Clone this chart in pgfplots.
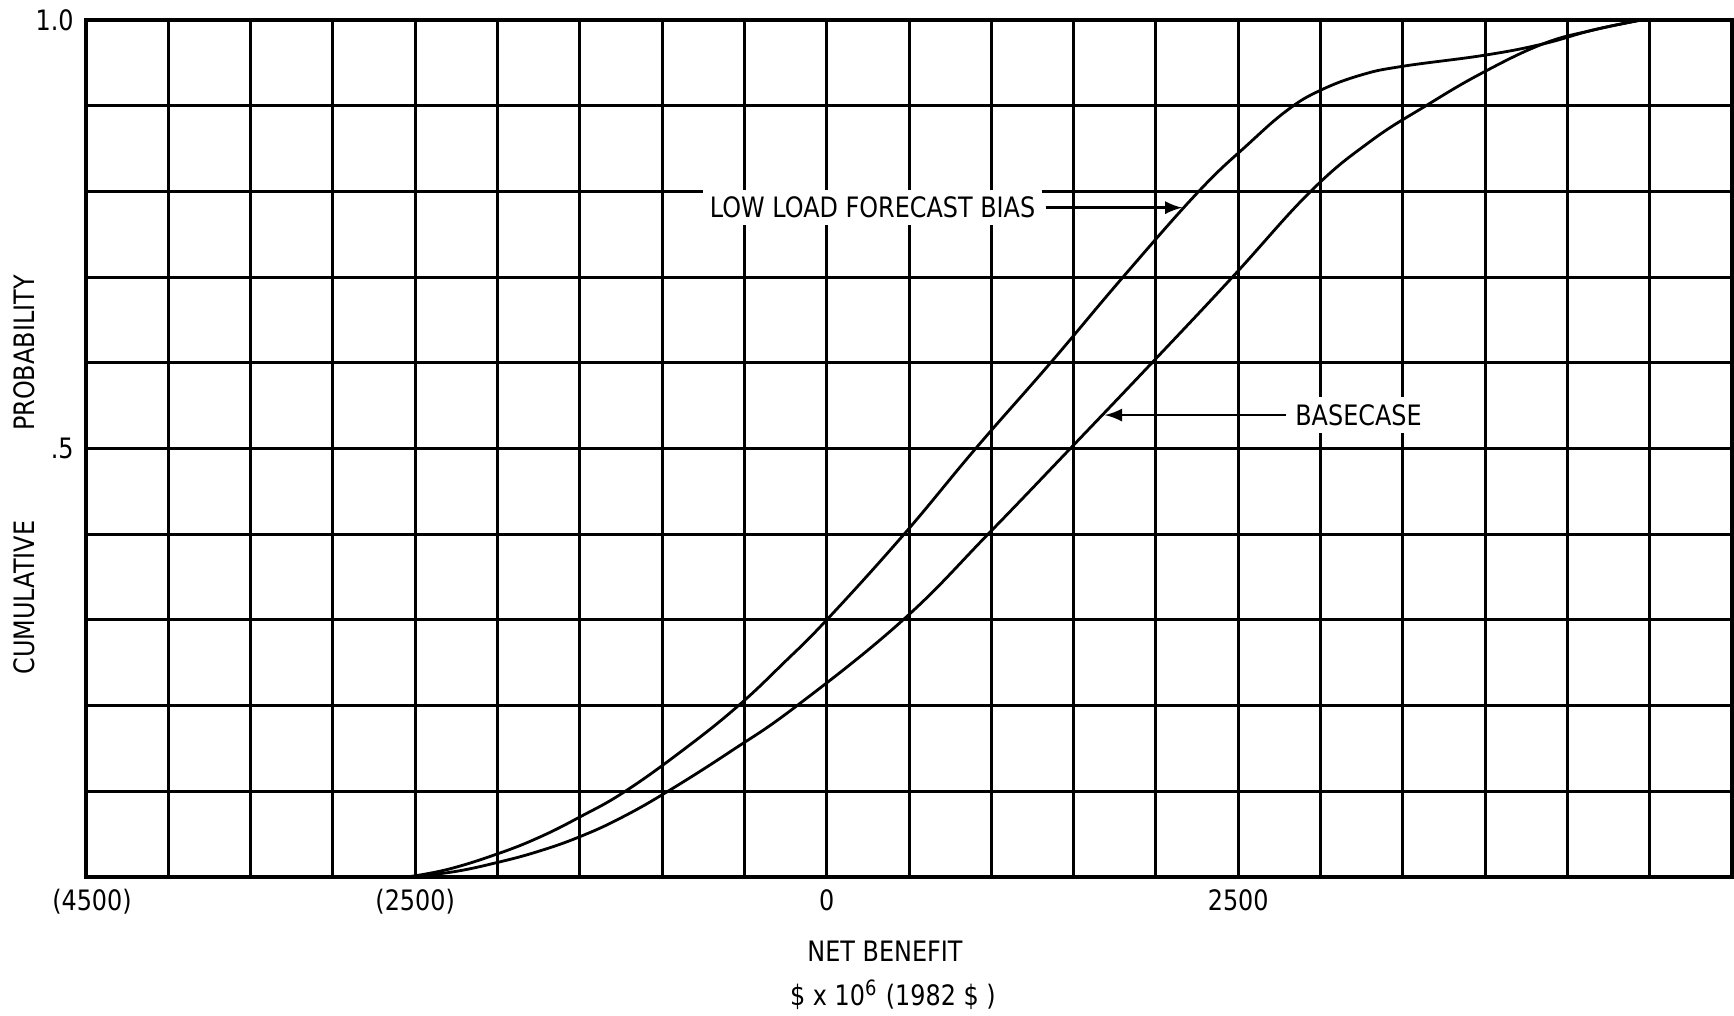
\documentclass[border=0pt]{standalone}
\usepackage{pgfplots}
\usepackage{pgfplotstable}
\pgfplotsset{compat=1.18}
\usepackage{fontspec}
\setmainfont{DejaVu Sans}[FakeStretch=0.85]
\begin{document}
\pgfplotstableread{
x y
-2550 0
-2300 0.009
-2000 0.027
-1750 0.046
-1500 0.070
-1224 0.100
-860 0.150
-536 0.200
-260 0.250
0 0.300
470 0.400
905 0.500
1360 0.600
1800 0.700
2260 0.800
2560 0.855
2800 0.895
3000 0.918
3250 0.936
3500 0.946
4000 0.959
4350 0.972
4650 0.988
4950 1.000
}\lowload
\pgfplotstableread{
x y
-2550 0
-2270 0.006
-2000 0.017
-1750 0.030
-1500 0.047
-1250 0.069
-965 0.100
-580 0.147
-180 0.200
464 0.300
980 0.400
1480 0.500
1976 0.600
2465 0.700
2940 0.800
3300 0.858
3641 0.900
3980 0.938
4350 0.972
4650 0.988
4950 1.000
}\basecase
\begin{tikzpicture}[font=\fontsize{8}{9.6}\selectfont]
\path[use as bounding box] (-0.86,-1.39) rectangle (16.48,8.77);
\begin{axis}[
  at={(0,0)}, anchor=south west, scale only axis,
  width=16.46cm, height=8.57cm,
  xmin=-4500, xmax=5500, ymin=0, ymax=1,
  xtick={-4500,-2500,0,2500},
  xticklabels={\hspace*{1.2mm}(4500),(2500),0,2500},
  ytick={0.5,1},
  yticklabels={.5,1.0},
  minor xtick={-4500,-4000,...,5500},
  minor ytick={0,0.1,0.2,0.3,0.4,0.5,0.6,0.7,0.8,0.9,1.0},
  grid=both,
  major grid style={black, line width=0.85pt},
  minor grid style={black, line width=0.85pt},
  major tick length=0pt, minor tick length=0pt,
  axis line style={line width=1pt},
  tick label style={font=\fontsize{8}{9.6}\selectfont},
  clip=false,
]
\addplot[black, line width=0.8pt, smooth, tension=0.7] table {\lowload};
\addplot[black, line width=0.8pt, smooth, tension=0.7] table {\basecase};
\node[anchor=east, fill=white, inner sep=2pt] at (axis cs:1314,0.781) {LOW LOAD FORECAST BIAS};
\draw[line width=0.7pt, -latex] (axis cs:1330,0.781) -- (axis cs:2160,0.781);
\node[anchor=west, fill=white, inner sep=2pt] at (axis cs:2800,0.539) {BASECASE};
\draw[line width=0.7pt, -latex] (axis cs:2790,0.539) -- (axis cs:1690,0.539);
\end{axis}
\node[rotate=90] at (-0.62,4.02) {CUMULATIVE\hspace{9mm}PROBABILITY};
\node at (7.99,-0.74) {NET BENEFIT};
\node at (8.07,-1.18) {\$ x 10\textsuperscript{6} (1982 \$ )};
\end{tikzpicture}
\end{document}
